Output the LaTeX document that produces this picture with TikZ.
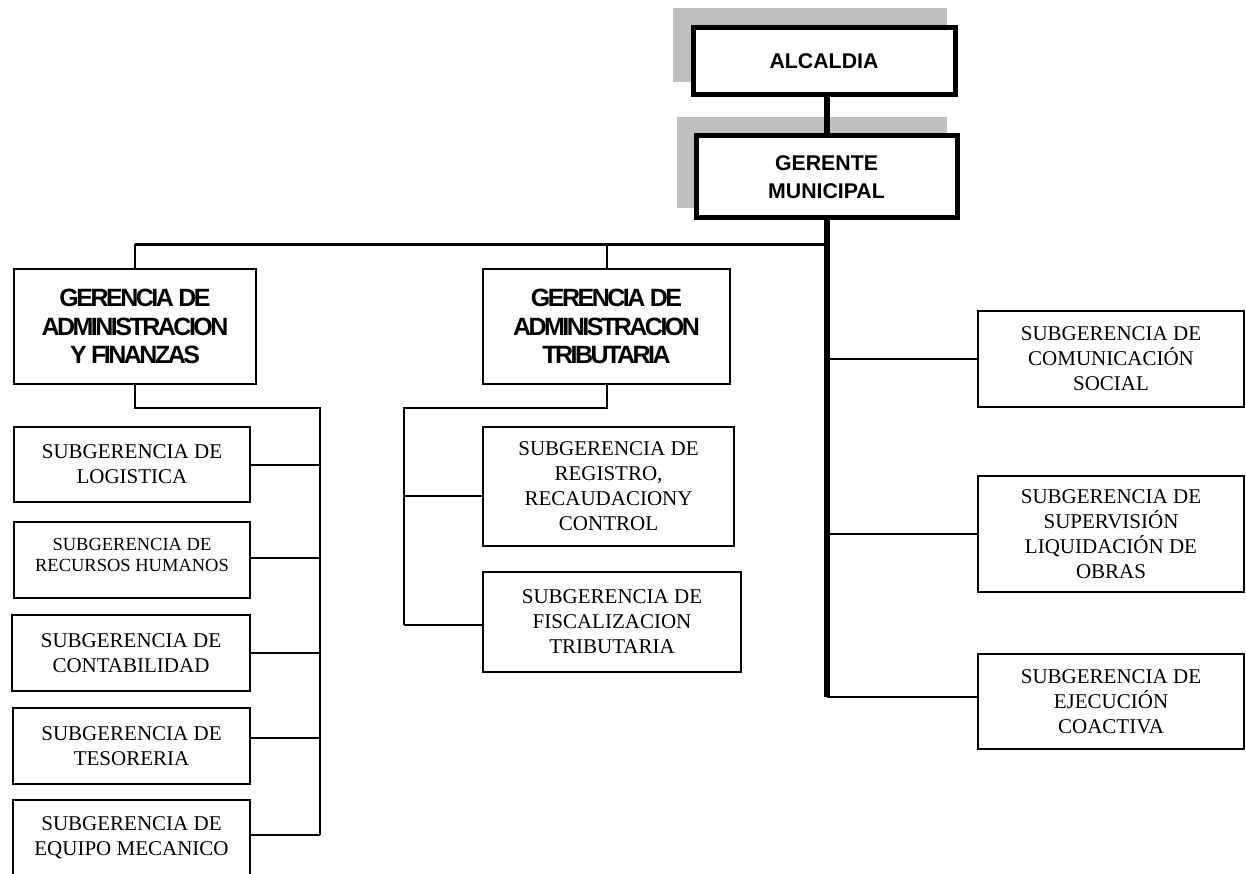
\documentclass[tikz,border=0pt]{standalone}
\usepackage{fontspec}
\setmainfont{Liberation Serif}
\newfontfamily\hsans{Liberation Sans}
\newfontfamily\hbold[LetterSpace=-10]{Liberation Sans}
\usetikzlibrary{calc}
\begin{document}
\begin{tikzpicture}[x=1pt,y=-1pt,
  box/.style={draw,line width=2pt,fill=white,inner sep=0pt,align=center,font=\fontsize{21}{25}\selectfont},
  gbox/.style={box,font=\hbold\bfseries\fontsize{25}{28.5}\selectfont},
  tbox/.style={draw,line width=5pt,fill=white,inner sep=0pt,align=center,font=\hsans\bfseries\fontsize{21.3}{28}\selectfont},
  shade/.style={fill=black!25,draw=none},
  ln/.style={line width=2pt},
  bar/.style={line width=2.8pt},
  thk/.style={line width=6pt}]
\useasboundingbox (0,0) rectangle (1246,874);
% shadows
\fill[shade] (673,8) rectangle (947,82);
\fill[shade] (677,117) rectangle (947,208);
% top boxes
\node[tbox,minimum width=262,minimum height=67] (alc) at (824,61.5) {ALCALDIA};
\node[tbox,minimum width=261,minimum height=82] (ger) at (826.5,177) {GERENTE\\MUNICIPAL};
\draw[thk] (ger.north) -- (ger.north |- alc.south);
% gerencias
\node[gbox,minimum width=242,minimum height=115] (gaf) at (135,326.5) {GERENCIA DE\\ADMINISTRACION\\Y FINANZAS};
\node[gbox,minimum width=247,minimum height=115] (gat) at (606.5,326.5) {GERENCIA DE\\ADMINISTRACION\\TRIBUTARIA};
% left subgerencias
\node[box,minimum width=236,minimum height=75] (log) at (132,464.5) {SUBGERENCIA DE\\LOGISTICA};
\node[box,minimum width=236,minimum height=76,font=\fontsize{18.5}{21}\selectfont] (rrhh) at (132,560) {SUBGERENCIA DE\\RECURSOS HUMANOS\\[-18pt]\strut};
\node[box,minimum width=238,minimum height=76] (cont) at (131,653) {SUBGERENCIA DE\\CONTABILIDAD};
\node[box,minimum width=237,minimum height=76] (tes) at (131.5,746) {SUBGERENCIA DE\\TESORERIA};
\node[box,minimum width=237,minimum height=76] (eq) at (131.5,838) {SUBGERENCIA DE\\EQUIPO MECANICO};
% middle subgerencias
\node[box,minimum width=251,minimum height=119] (reg) at (608.5,486.5) {SUBGERENCIA DE\\REGISTRO,\\RECAUDACIONY\\CONTROL};
\node[box,minimum width=258,minimum height=100] (fis) at (612,622) {SUBGERENCIA DE\\FISCALIZACION\\TRIBUTARIA};
% right subgerencias
\node[box,minimum width=266,minimum height=96] (com) at (1111,359) {SUBGERENCIA DE\\COMUNICACIÓN\\SOCIAL};
\node[box,minimum width=266,minimum height=116] (sup) at (1111,534) {SUBGERENCIA DE\\SUPERVISIÓN\\LIQUIDACIÓN DE\\OBRAS};
\node[box,minimum width=266,minimum height=95] (eje) at (1111,701.5) {SUBGERENCIA DE\\EJECUCIÓN\\COACTIVA};
% main bar
\coordinate (hb) at ($(ger.south)+(0,24)$);
\draw[bar] (gaf.north |- hb) -- (hb);
\draw[ln] (gaf.north) -- (gaf.north |- hb);
\draw[ln] (gat.north) -- (gat.north |- hb);
% right trunk
\coordinate (ejb) at ($(eje.west)+(0,-4.5)$);
\draw[thk] (ger.south) -- (ger.south |- ejb);
\draw[ln] (com.west) -- (com.west -| ger.south);
\draw[ln] (sup.west) -- (sup.west -| ger.south);
\draw[ln] (ejb) -- (ejb -| ger.south);
% left tree
\coordinate (lv) at ($(gaf.south)+(185,23)$);
\coordinate (eqb) at ($(eq.east)+(0,-3)$);
\coordinate (tsb) at ($(tes.east)+(0,-8)$);
\coordinate (rhb) at ($(rrhh.east)+(0,-2)$);
\draw[ln] (gaf.south) |- (lv) -- (lv |- eqb);
\draw[ln] (log.east) -- (log.east -| lv);
\draw[ln] (rhb) -- (rhb -| lv);
\draw[ln] (cont.east) -- (cont.east -| lv);
\draw[ln] (tsb) -- (tsb -| lv);
\draw[ln] (eqb) -- (eqb -| lv);
% middle tree
\coordinate (mv) at ($(gat.south)+(-202.5,23)$);
\coordinate (rgb) at ($(reg.west)+(0,9.5)$);
\coordinate (fsb) at ($(fis.west)+(0,3)$);
\draw[ln] (gat.south) |- (mv) -- (mv |- fsb);
\draw[ln] (rgb) -- (rgb -| mv);
\draw[ln] (fsb) -- (fsb -| mv);
\end{tikzpicture}
\end{document}
